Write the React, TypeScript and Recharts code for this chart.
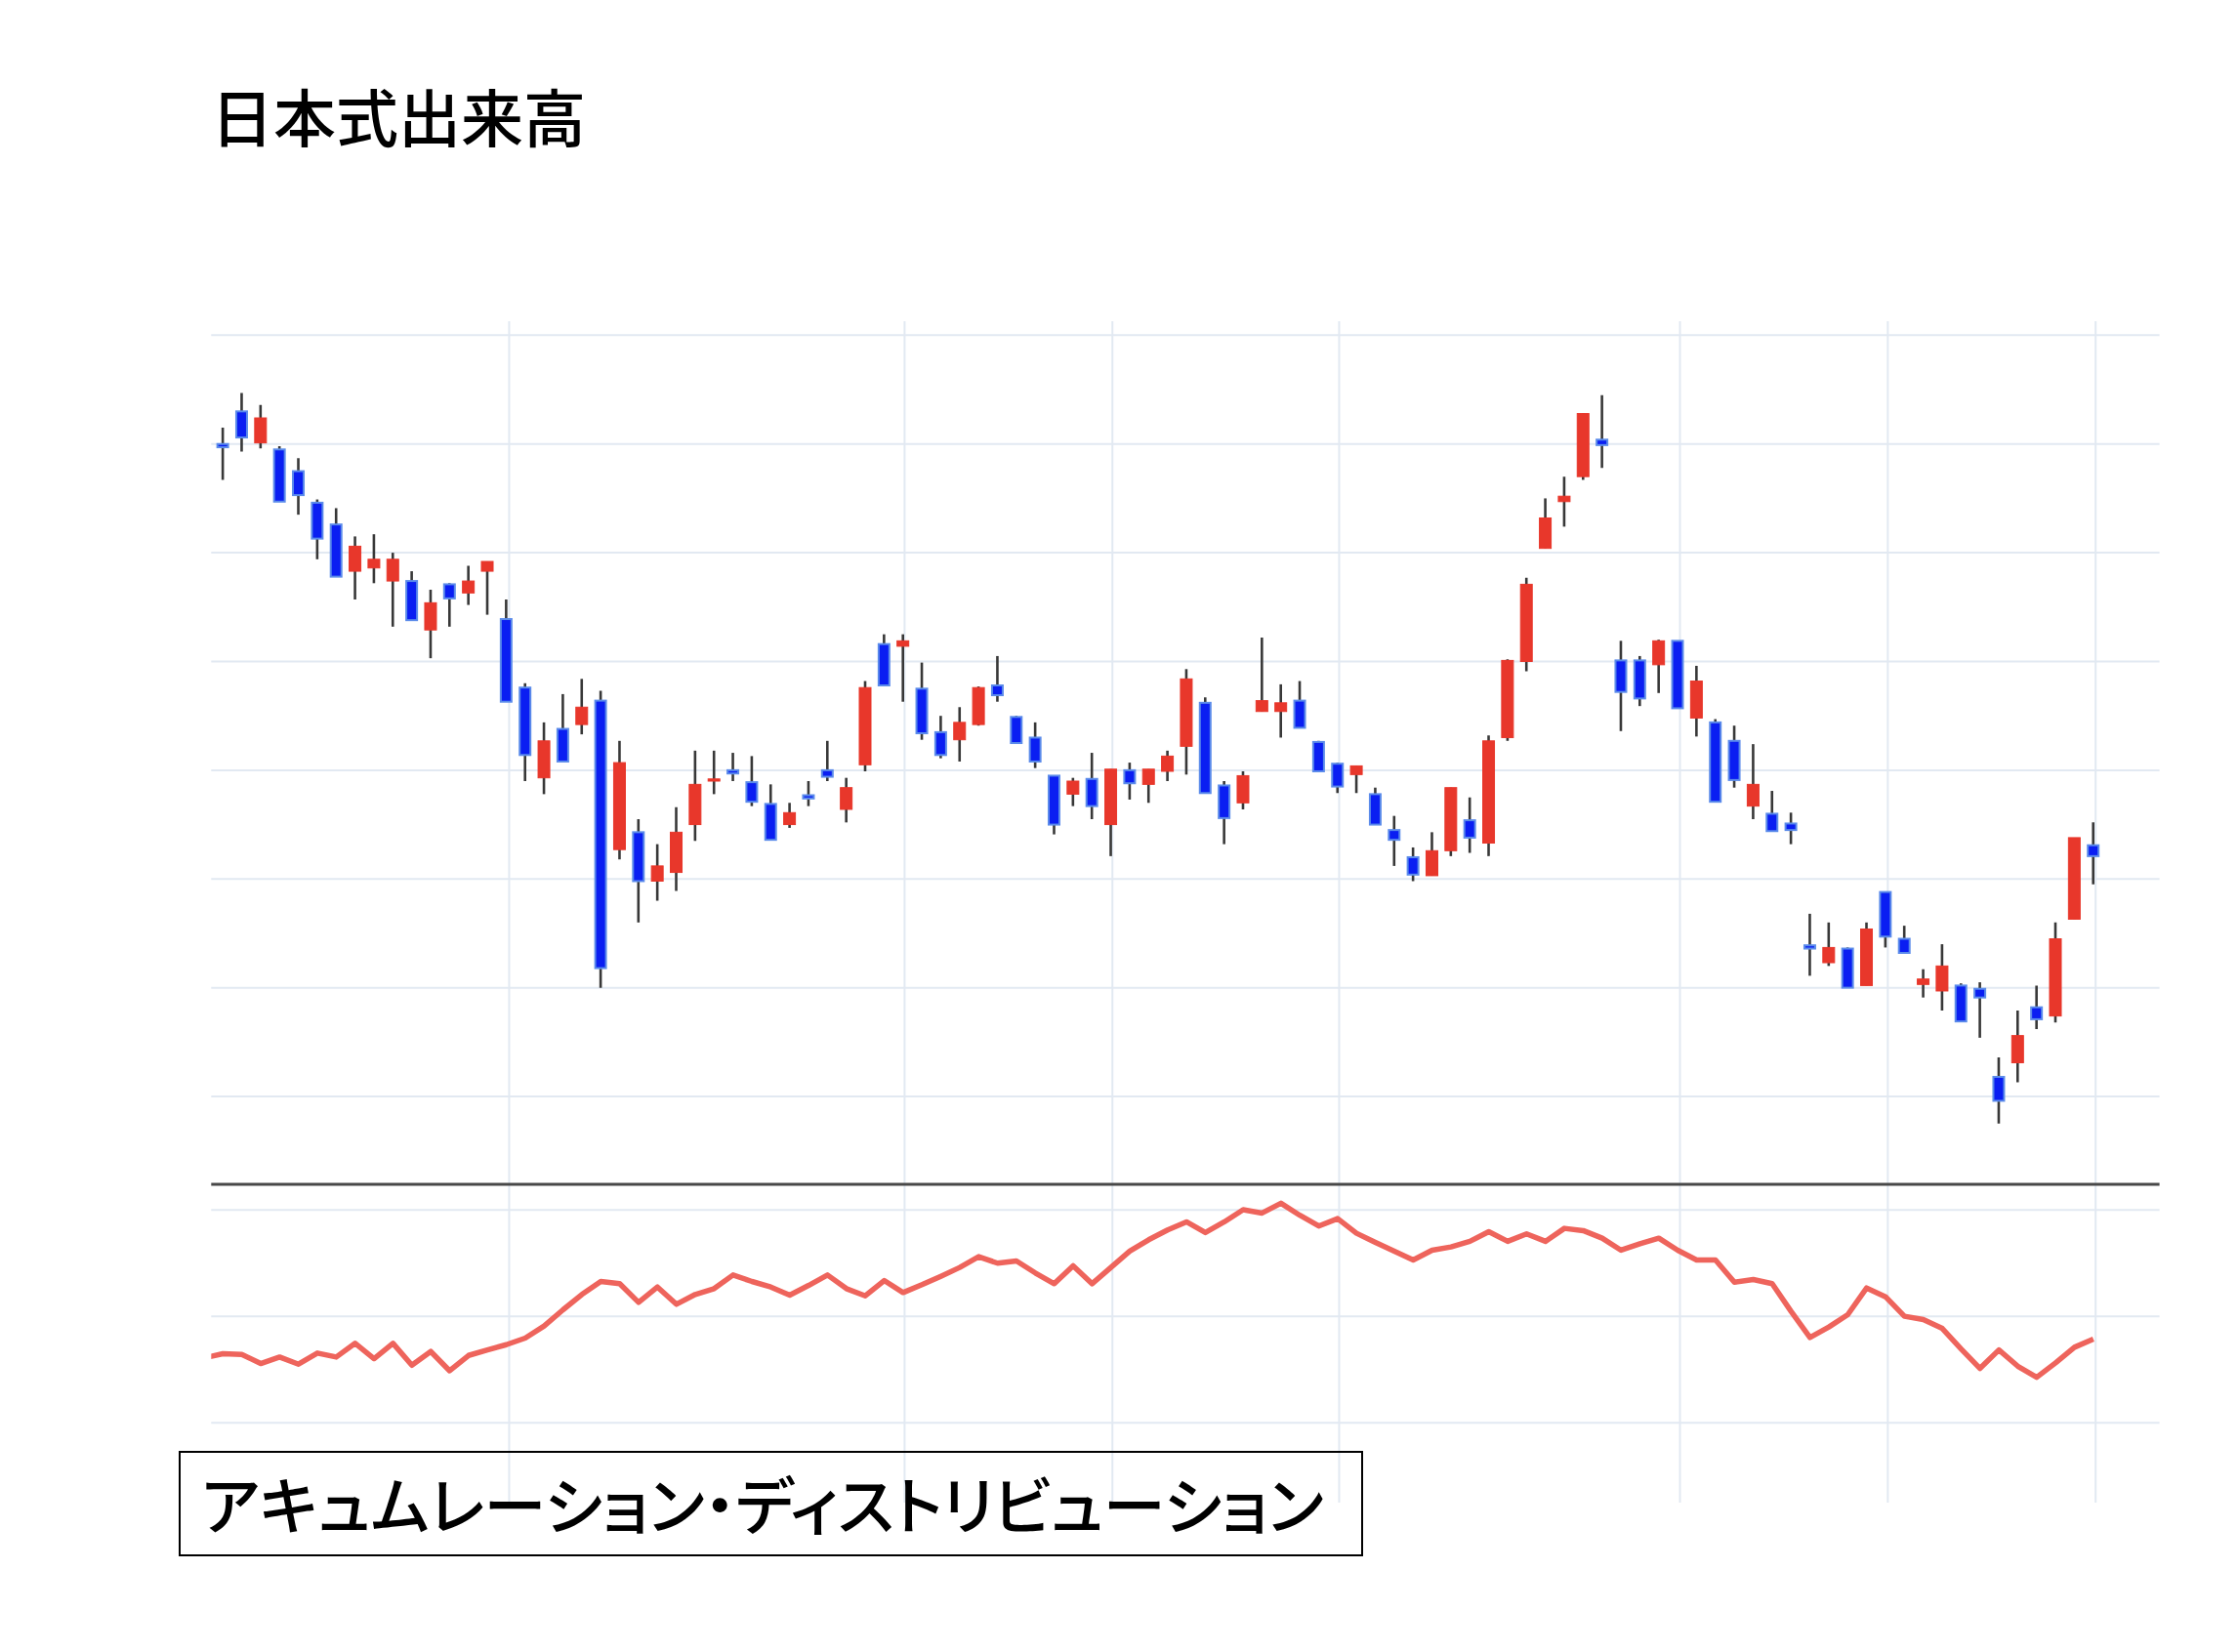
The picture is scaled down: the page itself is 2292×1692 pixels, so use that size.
import { ComposedChart, Bar, Line, XAxis, YAxis, CartesianGrid, ReferenceLine } from "recharts";

// daily candles, index 0..99
const OPEN = [
    1600, 1630, 1601, 1595, 1575, 1546, 1526, 1483, 1486, 1474,
    1474, 1429, 1471, 1463, 1483, 1439, 1376, 1293, 1338, 1342,
    1364, 1227, 1243, 1198, 1206, 1250, 1290, 1300, 1289, 1269,
    1250, 1277, 1300, 1264, 1305, 1416, 1414, 1375, 1335, 1328,
    1342, 1378, 1349, 1330, 1295, 1278, 1292, 1250, 1300, 1287,
    1299, 1322, 1362, 1286, 1270, 1354, 1354, 1364, 1326, 1306,
    1296, 1278, 1245, 1220, 1203, 1226, 1254, 1233, 1330, 1400,
    1504, 1547, 1570, 1604, 1401, 1401, 1397, 1419, 1348, 1344,
    1327, 1267, 1260, 1251, 1139, 1123, 1136, 1102, 1188, 1145,
    1103, 1097, 1102, 1099, 1018, 1031, 1082, 1074, 1163, 1231,
];
const HIGH = [
    1615, 1647, 1636, 1598, 1587, 1549, 1541, 1515, 1517, 1500,
    1483, 1466, 1472, 1488, 1492, 1457, 1380, 1344, 1370, 1384,
    1373, 1327, 1255, 1232, 1266, 1318, 1318, 1316, 1313, 1287,
    1270, 1290, 1327, 1293, 1382, 1425, 1425, 1399, 1350, 1358,
    1377, 1405, 1350, 1344, 1295, 1293, 1316, 1301, 1307, 1301,
    1318, 1393, 1367, 1290, 1299, 1422, 1379, 1382, 1327, 1307,
    1304, 1284, 1258, 1229, 1243, 1284, 1275, 1332, 1402, 1477,
    1550, 1570, 1628, 1645, 1419, 1405, 1420, 1419, 1396, 1347,
    1341, 1324, 1281, 1261, 1168, 1160, 1137, 1160, 1188, 1157,
    1117, 1140, 1104, 1105, 1036, 1079, 1102, 1160, 1238, 1252,
];
const LOW = [
    1567, 1593, 1596, 1547, 1535, 1494, 1478, 1457, 1472, 1432,
    1438, 1403, 1432, 1452, 1443, 1363, 1290, 1278, 1308, 1333,
    1100, 1218, 1160, 1180, 1189, 1235, 1278, 1290, 1267, 1236,
    1247, 1267, 1290, 1252, 1299, 1378, 1363, 1328, 1311, 1308,
    1341, 1363, 1325, 1302, 1241, 1267, 1255, 1221, 1273, 1270,
    1290, 1296, 1279, 1232, 1264, 1354, 1330, 1339, 1299, 1279,
    1279, 1250, 1212, 1198, 1203, 1221, 1224, 1221, 1327, 1391,
    1504, 1524, 1567, 1578, 1336, 1359, 1371, 1357, 1331, 1271,
    1284, 1255, 1244, 1232, 1111, 1120, 1100, 1102, 1137, 1132,
    1091, 1079, 1069, 1054, 975, 1013, 1062, 1068, 1163, 1195,
];
const CLOSE = [
    1597, 1606, 1624, 1547, 1553, 1513, 1478, 1506, 1494, 1494,
    1438, 1454, 1458, 1474, 1492, 1363, 1314, 1327, 1308, 1358,
    1118, 1307, 1198, 1212, 1243, 1287, 1292, 1297, 1271, 1236,
    1261, 1274, 1294, 1284, 1376, 1378, 1419, 1334, 1314, 1344,
    1376, 1369, 1325, 1308, 1250, 1290, 1267, 1301, 1288, 1301,
    1313, 1384, 1279, 1256, 1295, 1364, 1362, 1339, 1299, 1285,
    1304, 1250, 1236, 1204, 1226, 1284, 1238, 1327, 1401, 1471,
    1532, 1552, 1628, 1599, 1372, 1366, 1419, 1357, 1382, 1271,
    1291, 1287, 1244, 1245, 1136, 1137, 1100, 1154, 1147, 1132,
    1108, 1120, 1069, 1091, 996, 1056, 1071, 1145, 1238, 1221,
];

// accumulation / distribution, index -1..99 (first point sits left of the plot)
const AD_START = -1;
const AD = [
    -3.91,
    -3.51, -3.58, -4.43, -3.82, -4.49, -3.45, -3.82, -2.53, -3.97, -2.53,
    -4.59, -3.3, -5.11, -3.67, -3.15, -2.66, -2.04, -0.91, 0.62, 2.06,
    3.28, 3.07, 1.32, 2.76, 1.14, 2.06, 2.61, 3.89, 3.28, 2.76,
    2.0, 2.91, 3.89, 2.61, 1.93, 3.37, 2.24, 2.98, 3.77, 4.6,
    5.61, 5.0, 5.21, 4.08, 3.07, 4.75, 3.07, 4.6, 6.13, 7.2,
    8.12, 8.88, 7.87, 8.88, 10.02, 9.71, 10.63, 9.5, 8.49, 9.19,
    7.81, 6.95, 6.13, 5.3, 6.22, 6.53, 7.05, 7.96, 7.05, 7.75,
    7.05, 8.27, 8.06, 7.35, 6.22, 6.83, 7.35, 6.22, 5.3, 5.3,
    3.22, 3.46, 3.07, 0.47, -1.98, -1.0, 0.16, 2.67, 1.84, 0.01,
    -0.3, -1.13, -3.06, -4.89, -3.15, -4.68, -5.72, -4.37, -2.9, -2.14,
];

const PRICE_TICKS = [1000, 1100, 1200, 1300, 1400, 1500, 1600, 1700];
const AD_TICKS = [-10, 0, 10];
const DATE_TICKS = [15.15, 36.08, 47.08, 59.08, 77.12, 88.12, 99.12];

const X_DOMAIN = [-0.62, 102.5];
const PRICE_DOMAIN = [919.2, 1712.9];
const AD_DOMAIN = [-17.5, 12.41];

const UP = "#E8372B";
const DOWN = "#0A1EF2";
const DOWN_EDGE = "#5B8BEA";
const WICK = "#383838";
const GRID = "#E2E9F2";
const AD_COLOR = "#EE645C";
const JP_FONT = '"Noto Sans CJK JP", "Noto Sans CJK SC", sans-serif';

const candles = OPEN.map((o, i) => ({
    i,
    open: o,
    high: HIGH[i],
    low: LOW[i],
    close: CLOSE[i],
    range: [LOW[i], HIGH[i]],
}));

const adData = AD.map((v, k) => ({ i: AD_START + k, v }));

function Candle(props: any) {
    const { x, y, width, height, payload } = props;
    if (!payload) return null;
    const { open, high, low, close } = payload;
    const top = Math.min(y, y + height);
    const h = Math.abs(height);
    const span = high - low || 1;
    const toY = (v: number) => top + ((high - v) / span) * h;
    const cx = x + width / 2;
    const up = close > open;
    const bTop = toY(Math.max(open, close));
    const bBot = toY(Math.min(open, close));
    const bh = Math.max(bBot - bTop, 1.5);
    return (
        <g>
            <line x1={cx} x2={cx} y1={toY(high)} y2={toY(low)} stroke={WICK} strokeWidth={2.6} />
            {up ? (
                <rect x={x + 0.5} y={bTop} width={width - 1} height={bh} fill={UP} stroke={UP} strokeWidth={1} />
            ) : (
                <rect x={x + 1} y={bTop} width={width - 2} height={bh} fill={DOWN} stroke={DOWN_EDGE} strokeWidth={2} />
            )}
        </g>
    );
}

export default function App() {
    return (
        <div style={{ position: "absolute", left: 0, top: 0, width: 2292, height: 1692, background: "#fff", overflow: "hidden" }}>
            <div
                style={{
                    position: "absolute",
                    left: 216,
                    top: 85,
                    fontFamily: JP_FONT,
                    fontSize: 64,
                    fontWeight: 500,
                    lineHeight: 1,
                    color: "#000",
                    whiteSpace: "nowrap",
                }}
            >
                日本式出来高
            </div>

            <div style={{ position: "absolute", left: 0, top: 1213 }}>
                <ComposedChart
                    width={2292}
                    height={330}
                    data={adData}
                    margin={{ top: 0, right: 80.4, bottom: 4, left: 216.3 }}
                >
                    <CartesianGrid stroke={GRID} strokeWidth={2} syncWithTicks />
                    <XAxis type="number" dataKey="i" domain={X_DOMAIN} ticks={DATE_TICKS} allowDataOverflow hide />
                    <YAxis type="number" domain={AD_DOMAIN} ticks={AD_TICKS} allowDataOverflow hide />
                    <Line
                        dataKey="v"
                        stroke={AD_COLOR}
                        strokeWidth={5.5}
                        strokeLinejoin="round"
                        dot={false}
                        type="linear"
                        isAnimationActive={false}
                    />
                </ComposedChart>
            </div>

            <div style={{ position: "absolute", left: 0, top: 0 }}>
                <ComposedChart
                    width={2292}
                    height={1216}
                    data={candles}
                    margin={{ top: 329, right: 80.4, bottom: 3, left: 216.3 }}
                >
                    <CartesianGrid stroke={GRID} strokeWidth={2} syncWithTicks />
                    <XAxis type="number" dataKey="i" domain={X_DOMAIN} ticks={DATE_TICKS} allowDataOverflow hide />
                    <YAxis type="number" domain={PRICE_DOMAIN} ticks={PRICE_TICKS} allowDataOverflow hide />
                    <ReferenceLine y={PRICE_DOMAIN[0]} stroke="#484848" strokeWidth={3} />
                    <Bar dataKey="range" barSize={13} shape={<Candle />} isAnimationActive={false} />
                </ComposedChart>
            </div>

            <div
                style={{
                    position: "absolute",
                    left: 183,
                    top: 1486,
                    width: 1213,
                    height: 108,
                    border: "2px solid #000",
                    boxSizing: "border-box",
                }}
            />
            <div
                style={{
                    position: "absolute",
                    left: 206,
                    top: 1506,
                    fontFamily: JP_FONT,
                    fontSize: 64,
                    fontWeight: 500,
                    lineHeight: 1,
                    fontFeatureSettings: '"palt"',
                    color: "#000",
                    whiteSpace: "nowrap",
                }}
            >
                アキュムレーション・ディストリビューション
            </div>
        </div>
    );
}
